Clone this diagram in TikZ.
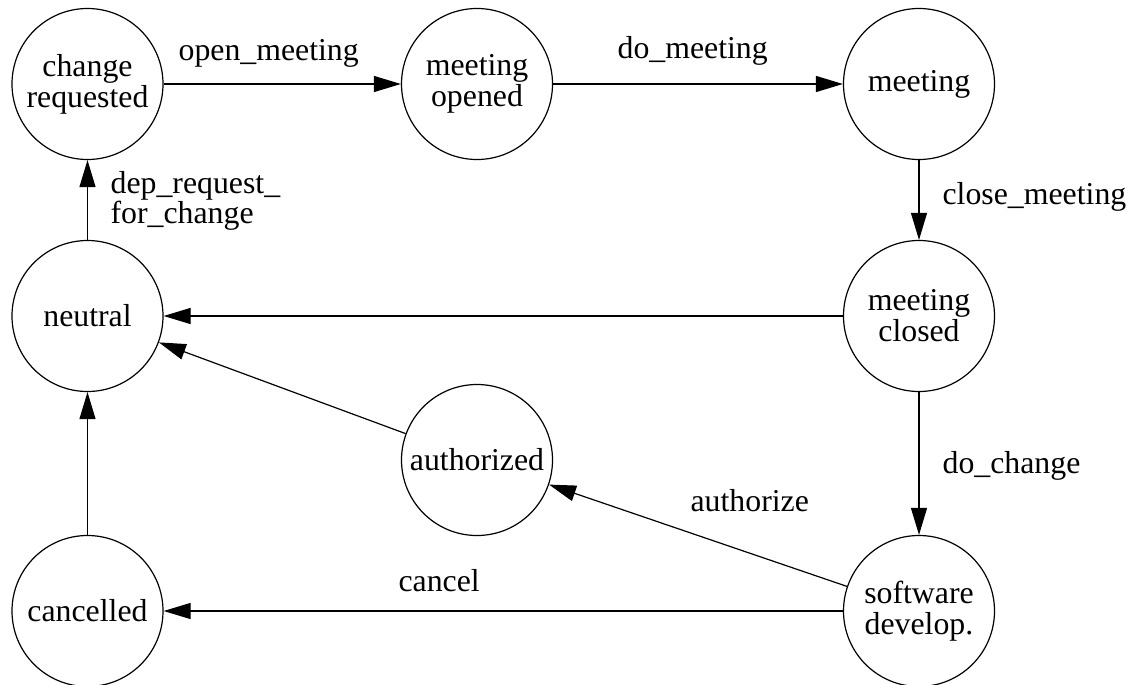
\documentclass[tikz,border=0pt]{standalone}
\usepackage{fontspec}
\setmainfont{Liberation Serif}
\usetikzlibrary{arrows.meta}
\begin{document}
\begin{tikzpicture}[x=1pt,y=-1pt,
  every node/.style={font=\fontsize{31.8pt}{31pt}\selectfont},
  state/.style={circle,draw,line width=1.2pt,minimum size=151pt,inner sep=0pt,align=center},
  lbl/.style={anchor=base west,inner sep=0pt,align=left},
  conn/.style={line width=1.2pt,-{Triangle[length=27pt,width=16pt]}}]
\useasboundingbox (0,0) rectangle (1132,685);
\node[state] (cr) at (87.5,84) {change\\requested};
\node[state] (mo) at (477,84) {meeting\\opened};
\node[state] (me) at (919,84) {meeting};
\node[state] (mc) at (919,316) {meeting\\closed};
\node[state] (ne) at (87.5,316) {neutral};
\node[state] (au) at (477,460) {authorized};
\node[state] (ca) at (87.5,611) {cancelled};
\node[state] (sd) at (919,611) {software\\develop.};
\draw[conn] (cr) -- (mo) node[lbl,at={(178,60)}] {open\_meeting};
\draw[conn] (mo) -- (me) node[lbl,at={(617,59)}] {do\_meeting};
\draw[conn] (me) -- (mc) node[lbl,at={(942,204)}] {close\_meeting};
\draw[conn] (mc) -- (ne);
\draw[conn] (au) -- (ne);
\draw[conn] (ne) -- (cr) node[lbl,at={(110,223)},font=\fontsize{31.8pt}{30pt}\selectfont] {dep\_request\_\\for\_change};
\draw[conn] (ca) -- (ne);
\draw[conn] (mc) -- (sd) node[lbl,at={(942,473)}] {do\_change};
\draw[conn] (sd) -- (au) node[lbl,at={(690,511)}] {authorize};
\draw[conn] (sd) -- (ca) node[lbl,at={(398,591)}] {cancel};
\end{tikzpicture}
\end{document}
